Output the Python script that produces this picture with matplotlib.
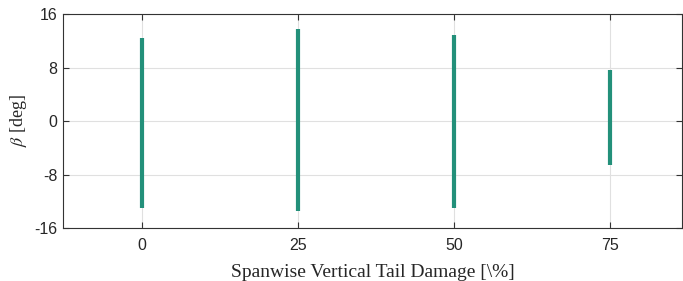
import matplotlib.pyplot as plt

# damage levels and sideslip range (min/max)
damage = [0, 25, 50, 75]
beta_min = [-13.0, -13.4, -13.05, -6.6]
beta_max = [12.45, 13.7, 12.85, 7.6]

plt.rcParams['mathtext.fontset'] = 'stix'
plt.rcParams['axes.unicode_minus'] = False

fig = plt.figure(figsize=(6.83, 2.81), dpi=100)
ax = fig.add_axes([0.0922, 0.1886, 0.9063, 0.7614])

ax.vlines(damage, beta_min, beta_max, colors='#23907a', linewidth=3.0, zorder=3)

ax.set_xlim(-12.6, 86.5)
ax.set_ylim(-16, 16)
ax.set_xticks(damage)
ax.set_yticks([-16, -8, 0, 8, 16])
ax.grid(True, color='#e0e0e0', linewidth=0.8)
ax.set_axisbelow(True)

ax.tick_params(direction='in', top=True, right=True, length=4, width=0.8,
               color='#333333', labelsize=11.5, labelcolor='#262626')
ax.tick_params(axis='x', pad=7)
ax.tick_params(axis='y', pad=4)
for lab in ax.get_xticklabels() + ax.get_yticklabels():
    lab.set_family('Liberation Sans')
for s in ax.spines.values():
    s.set_color('#333333')
    s.set_linewidth(0.8)

ax.set_xlabel('Spanwise Vertical Tail Damage [\\%]', family='Liberation Serif',
              fontsize=14, color='#262626', labelpad=8)
ax.set_ylabel('$\\beta$ [deg]', family='Liberation Serif', fontsize=13,
              color='#262626', labelpad=4)

fig.savefig('out.png', dpi=100)
